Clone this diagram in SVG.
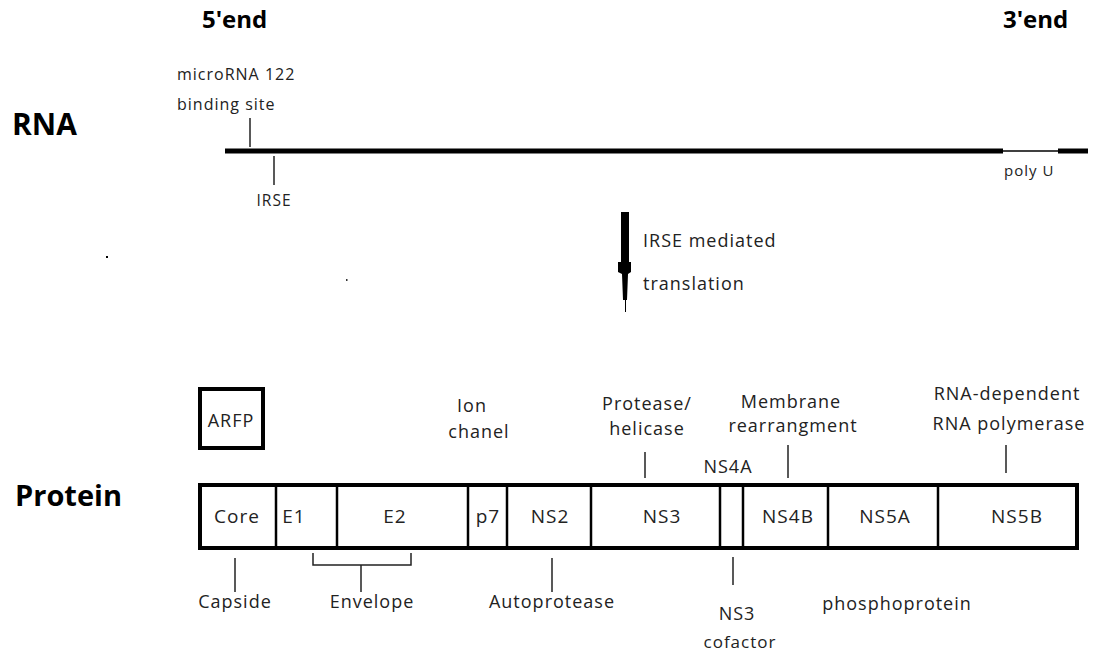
<svg xmlns="http://www.w3.org/2000/svg" width="1104" height="653" viewBox="0 0 1104 653">
<style>
.t{font-family:"Open Sans","Noto Sans","DejaVu Sans",sans-serif;fill:#222;letter-spacing:1px}
.b{font-family:"Open Sans","Noto Sans","DejaVu Sans",sans-serif;font-weight:bold;fill:#000}
.m{text-anchor:middle}
.s{font-size:18px}
.tk{stroke:#222;stroke-width:1.5;fill:none}
.box{fill:#fff;stroke:#000;stroke-width:4}
.div{stroke:#000;stroke-width:2.5}
</style>
<rect width="1104" height="653" fill="#fff"/>
<g id="titles">
<text class="b" x="202" y="28" font-size="24">5'end</text>
<text class="b" x="1003" y="28" font-size="24">3'end</text>
<text class="b" x="12" y="135" font-size="30">RNA</text>
<text class="b" x="15" y="506" font-size="29">Protein</text>
</g>
<g id="rna">
<line x1="225" y1="151" x2="1003" y2="151" stroke="#000" stroke-width="5"/>
<line x1="1003" y1="151" x2="1058" y2="151" stroke="#000" stroke-width="1.5"/>
<line x1="1058" y1="151" x2="1088" y2="151" stroke="#000" stroke-width="5"/>
</g>
<g id="mirna">
<text class="t" x="177" y="80" font-size="16" letter-spacing="0.8">microRNA 122</text>
<text class="t" x="177" y="110" font-size="16" letter-spacing="0.8">binding site</text>
</g>
<g id="irse">
<text class="t m" x="274" y="206" font-size="15.5" letter-spacing="0.9">IRSE</text>
</g>
<g id="polyu">
<text class="t" x="1004" y="176" font-size="15" letter-spacing="1.2">poly U</text>
</g>
<g id="translation">
<polygon points="621,212 629,212 629,262 631,262 631,272 628,274 627,300 626,300 626,312 625,312 625,300 623,300 622,274 618,272 618,262 621,262" fill="#000"/>
<text class="t s" x="643" y="247">IRSE mediated</text>
<text class="t s" x="643" y="290">translation</text>
</g>
<g id="arfp">
<rect class="box" x="200" y="389" width="63" height="59"/>
<text class="t m s" x="231" y="427">ARFP</text>
</g>
<g id="polyprotein">
<rect class="box" x="200" y="485" width="877" height="63"/>
<line class="div" x1="276" y1="485" x2="276" y2="548"/>
<line class="div" x1="337" y1="485" x2="337" y2="548"/>
<line class="div" x1="468" y1="485" x2="468" y2="548"/>
<line class="div" x1="507" y1="485" x2="507" y2="548"/>
<line class="div" x1="591" y1="485" x2="591" y2="548"/>
<line class="div" x1="720" y1="485" x2="720" y2="548"/>
<line class="div" x1="743" y1="485" x2="743" y2="548"/>
<line class="div" x1="828" y1="485" x2="828" y2="548"/>
<line class="div" x1="938" y1="485" x2="938" y2="548"/>
<g id="core"><text class="t m" x="237" y="523" font-size="19">Core</text></g>
<g id="e1"><text class="t m" x="294" y="523" font-size="19">E1</text></g>
<g id="e2"><text class="t m" x="395" y="523" font-size="19">E2</text></g>
<g id="p7"><text class="t m" x="488" y="523" font-size="19">p7</text></g>
<g id="ns2"><text class="t m" x="550" y="523" font-size="19">NS2</text></g>
<g id="ns3"><text class="t m" x="662" y="523" font-size="19">NS3</text></g>
<g id="ns4b"><text class="t m" x="788" y="523" font-size="19">NS4B</text></g>
<g id="ns5a"><text class="t m" x="885" y="523" font-size="19">NS5A</text></g>
<g id="ns5b"><text class="t m" x="1017" y="523" font-size="19">NS5B</text></g>
</g>
<g id="labels">
<text class="t m s" x="472" y="412">Ion</text>
<text class="t m s" x="479" y="438">chanel</text>
<text class="t m s" x="647" y="410">Protease/</text>
<text class="t m s" x="647" y="435">helicase</text>
<text class="t m s" x="728" y="473">NS4A</text>
<text class="t m s" x="791" y="408">Membrane</text>
<text class="t m s" x="793" y="432">rearrangment</text>
<text class="t m s" x="1007" y="400">RNA-dependent</text>
<text class="t m s" x="1009" y="430">RNA polymerase</text>
<text class="t m s" x="235" y="608">Capside</text>
<text class="t m s" x="372" y="608">Envelope</text>
<text class="t m s" x="552" y="608">Autoprotease</text>
<text class="t m s" x="737" y="620">NS3</text>
<text class="t m" x="740" y="648" font-size="17" letter-spacing="0.9">cofactor</text>
<text class="t m s" x="897" y="610">phosphoprotein</text>
</g>
<g id="connectors">
<line class="tk" x1="250" y1="118" x2="250" y2="147"/>
<line class="tk" x1="274" y1="156" x2="274" y2="185"/>
<line class="tk" x1="645" y1="452" x2="645" y2="478"/>
<line class="tk" x1="788" y1="445" x2="788" y2="478"/>
<line class="tk" x1="1006" y1="445" x2="1006" y2="473"/>
<line class="tk" x1="235" y1="558" x2="235" y2="592"/>
<polyline class="tk" points="313,553 313,565 411,565 411,553"/>
<line class="tk" x1="361" y1="565" x2="361" y2="592"/>
<line class="tk" x1="552" y1="558" x2="552" y2="592"/>
<line class="tk" x1="733" y1="557" x2="733" y2="585"/>
</g>
<g id="specks">
<rect x="106" y="256" width="2" height="2" fill="#000"/>
<rect x="346" y="279" width="1.5" height="2" fill="#333"/>
</g>
</svg>
